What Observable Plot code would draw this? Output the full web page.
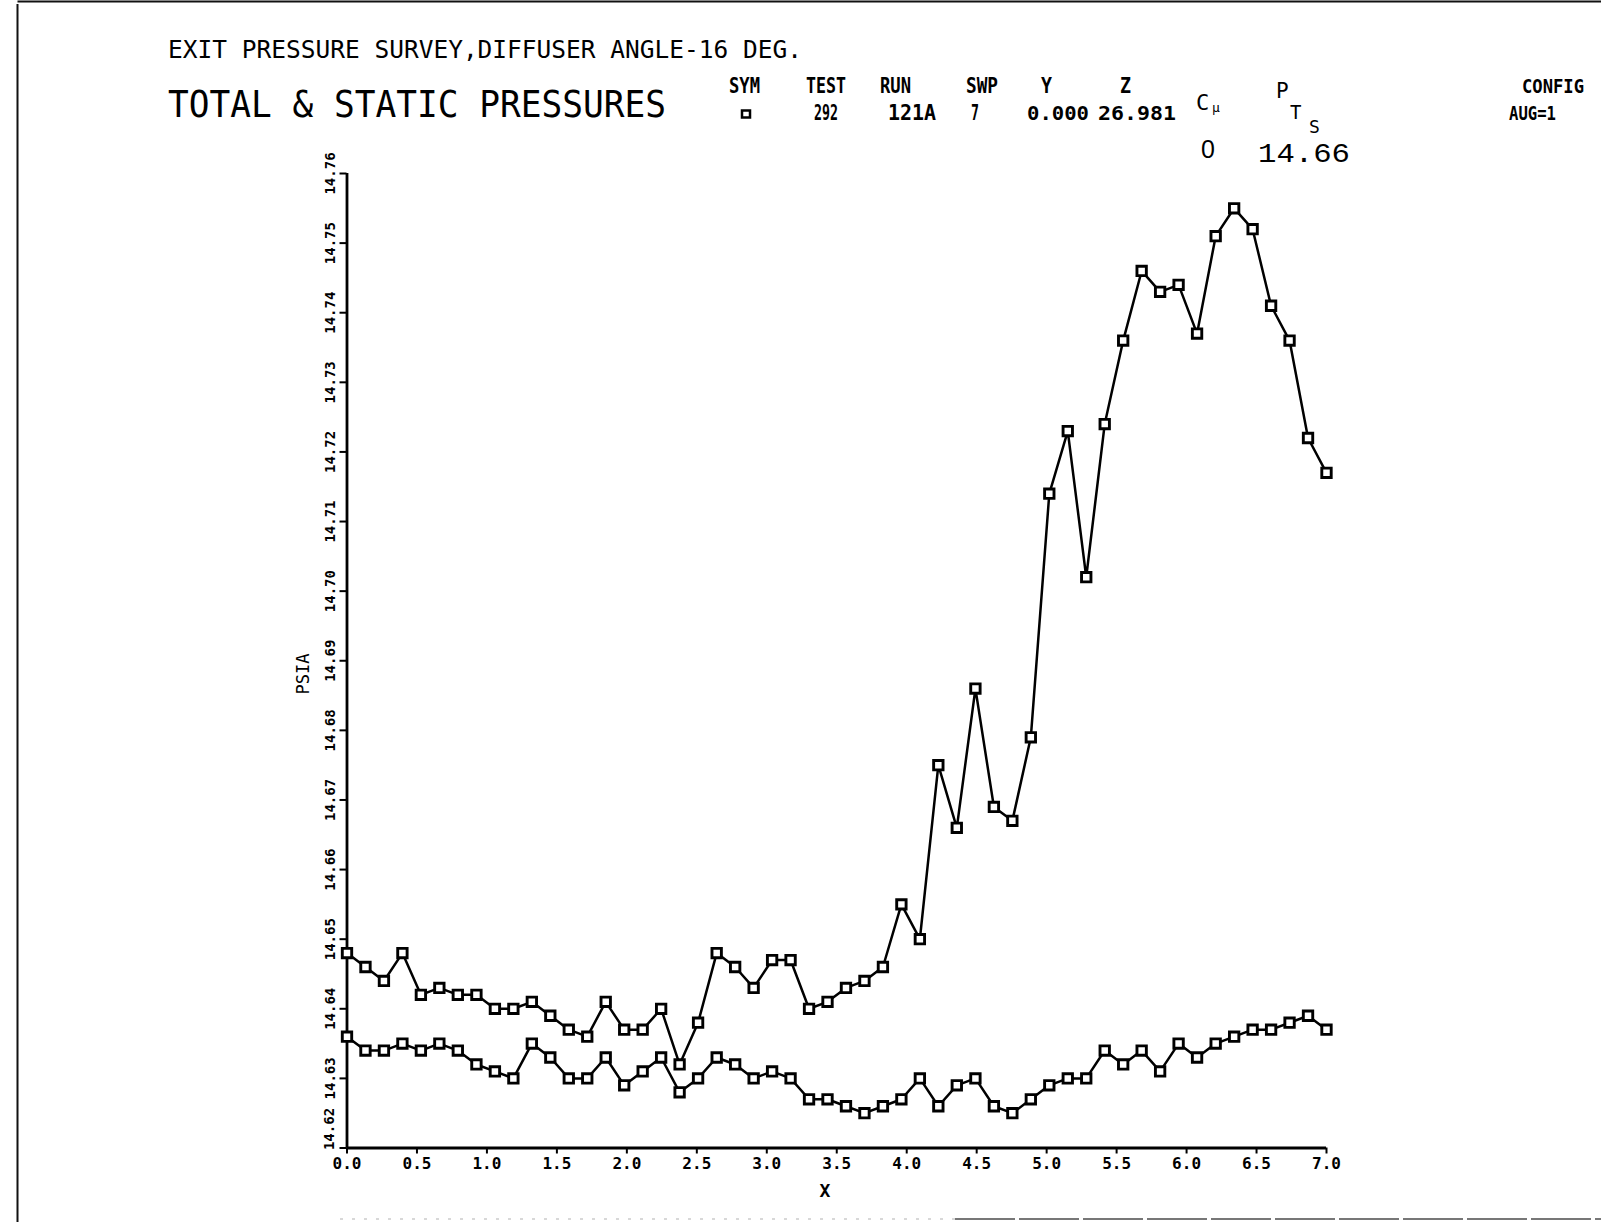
<!DOCTYPE html>
<html><head><meta charset="utf-8">
<script src="https://cdn.jsdelivr.net/npm/d3@7"></script>
<script src="https://cdn.jsdelivr.net/npm/@observablehq/plot@0.6"></script>
<style>
html,body{margin:0;padding:0;background:#fff;}
#page{position:relative;width:1601px;height:1222px;overflow:hidden;background:#fff;}
#page svg{position:absolute;left:0;top:0;}
</style></head><body><div id="page"></div>
<script>
// ---- data ----
const xPos = [0.000,0.132,0.264,0.396,0.528,0.660,0.792,0.925,1.057,1.189,1.321,1.453,1.585,1.717,1.849,1.981,2.113,2.245,2.377,2.509,2.642,2.774,2.906,3.038,3.170,3.302,3.434,3.566,3.698,3.830,3.962,4.094,4.226,4.358,4.491,4.623,4.755,4.887,5.019,5.151,5.283,5.415,5.547,5.679,5.811,5.943,6.075,6.208,6.340,6.472,6.604,6.736,6.868,7.000];
const totalPressure = [14.648,14.646,14.644,14.648,14.642,14.643,14.642,14.642,14.640,14.640,14.641,14.639,14.637,14.636,14.641,14.637,14.637,14.640,14.632,14.638,14.648,14.646,14.643,14.647,14.647,14.640,14.641,14.643,14.644,14.646,14.655,14.650,14.675,14.666,14.686,14.669,14.667,14.679,14.714,14.723,14.702,14.724,14.736,14.746,14.743,14.744,14.737,14.751,14.755,14.752,14.741,14.736,14.722,14.717];
const staticPressure = [14.636,14.634,14.634,14.635,14.634,14.635,14.634,14.632,14.631,14.630,14.635,14.633,14.630,14.630,14.633,14.629,14.631,14.633,14.628,14.630,14.633,14.632,14.630,14.631,14.630,14.627,14.627,14.626,14.625,14.626,14.627,14.630,14.626,14.629,14.630,14.626,14.625,14.627,14.629,14.630,14.630,14.634,14.632,14.634,14.631,14.635,14.633,14.635,14.636,14.637,14.637,14.638,14.639,14.637];
const xTicks = [0.0,0.5,1.0,1.5,2.0,2.5,3.0,3.5,4.0,4.5,5.0,5.5,6.0,6.5,7.0];
const yTicks = [14.62,14.63,14.64,14.65,14.66,14.67,14.68,14.69,14.70,14.71,14.72,14.73,14.74,14.75,14.76];

const totalRows = xPos.map((x, i) => ({x, y: totalPressure[i]}));
const staticRows = xPos.map((x, i) => ({x, y: staticPressure[i]}));

const page = document.getElementById("page");
const MONO = "'DejaVu Sans Mono', 'Liberation Mono', monospace";
const fmtY = d3.format(".2f");
const yBottom = yTicks[0];

const chart = Plot.plot({
  width: 1601,
  height: 1222,
  marginLeft: 346.5,
  marginRight: 275,
  marginTop: 173,
  marginBottom: 74.5,
  style: {fontFamily: MONO, background: "transparent", color: "black", overflow: "visible"},
  x: {domain: [0, 7]},
  y: {domain: [14.62, 14.76]},
  marks: [
    Plot.axisX({ticks: xTicks, tickFormat: d3.format(".1f"), tickSize: 6, tickPadding: 4,
      fontSize: 16, fontWeight: "bold", strokeWidth: 2, label: null}),
    // all tick marks; the bottom label is drawn separately, lifted clear of the x labels
    Plot.axisY({ticks: yTicks, tickFormat: d => d === yBottom ? "" : fmtY(d), tickSize: 7, tickPadding: 5,
      tickRotate: -90, fontSize: 14, fontWeight: "bold", strokeWidth: 2, label: null}),
    Plot.text([yBottom], {x: () => 0, y: d => d, text: d => fmtY(d), rotate: -90, dx: -17, dy: -19,
      fontSize: 14, fontWeight: "bold", textAnchor: "middle", lineAnchor: "middle"}),
    Plot.ruleX([0], {stroke: "black", strokeWidth: 2.8}),
    Plot.ruleY([14.62], {stroke: "black", strokeWidth: 2.8}),
    Plot.line(totalRows, {x: "x", y: "y", stroke: "black", strokeWidth: 2.5}),
    Plot.line(staticRows, {x: "x", y: "y", stroke: "black", strokeWidth: 2.5}),
    Plot.dot(totalRows, {x: "x", y: "y", symbol: "square", r: 5.3, fill: "white", stroke: "black", strokeWidth: 2.9}),
    Plot.dot(staticRows, {x: "x", y: "y", symbol: "square", r: 5.3, fill: "white", stroke: "black", strokeWidth: 2.9})
  ]
});
page.appendChild(chart);

// ---- header / annotations overlay ----
const svg = d3.select(page).append("svg")
  .attr("width", 1601).attr("height", 1222)
  .style("pointer-events", "none");

// page frame
svg.append("line").attr("x1", 17.5).attr("x2", 17.5).attr("y1", 4).attr("y2", 1222).attr("stroke", "#111").attr("stroke-width", 2);
svg.append("line").attr("x1", 17.5).attr("x2", 1601).attr("y1", 1.5).attr("y2", 1.5).attr("stroke", "#111").attr("stroke-width", 2);
svg.append("line").attr("x1", 955).attr("x2", 1601).attr("y1", 1219).attr("y2", 1219).attr("stroke", "#777").attr("stroke-width", 2).attr("stroke-dasharray", "60 4");
svg.append("line").attr("x1", 340).attr("x2", 955).attr("y1", 1219).attr("y2", 1219).attr("stroke", "#ccc").attr("stroke-width", 1.5).attr("stroke-dasharray", "3 9");

function txt(s, x, y, size, opts = {}) {
  const t = svg.append("text").attr("x", x).attr("y", y)
    .attr("font-family", opts.family || MONO)
    .attr("font-size", size)
    .attr("font-weight", opts.weight || "normal")
    .attr("fill", "black")
    .attr("text-anchor", opts.anchor || "start")
    .text(s);
  if (opts.len) t.attr("textLength", opts.len).attr("lengthAdjust", "spacingAndGlyphs");
  if (opts.rotate) t.attr("transform", `rotate(${opts.rotate},${x},${y})`);
  return t;
}

txt("EXIT PRESSURE SURVEY,DIFFUSER ANGLE-16 DEG.", 168, 58, 25, {len: 634});
txt("TOTAL & STATIC PRESSURES", 168, 117, 37, {len: 498});

const hdr = {weight: "bold"};
txt("SYM", 729, 93, 21, {...hdr, len: 31});
txt("TEST", 806, 93, 21, {...hdr, len: 40});
txt("RUN", 880, 93, 21, {...hdr, len: 31});
txt("SWP", 966, 93, 21, {...hdr, len: 32});
txt("Y", 1041, 93, 21, {...hdr, len: 11});
txt("Z", 1120, 93, 21, {...hdr, len: 11});
txt("C", 1196, 110, 22, {});
txt("\u03bc", 1212, 112, 13, {});
txt("P", 1276, 98, 21, {});
txt("T", 1290, 119, 19, {});
txt("S", 1309, 133, 18, {});
txt("CONFIG", 1522, 93, 19, {...hdr, len: 62});

// symbol box for SYM column
svg.append("rect").attr("x", 742).attr("y", 110.5).attr("width", 8).attr("height", 7)
  .attr("fill", "white").attr("stroke", "black").attr("stroke-width", 2.5);
txt("292", 814, 120, 21, {...hdr, len: 24});
txt("121A", 888, 120, 21, {...hdr, len: 48});
txt("7", 971, 120, 21, {...hdr, len: 8});
txt("0.000", 1027, 120, 20, {...hdr, len: 62});
txt("26.981", 1098, 120, 20, {...hdr, len: 78});
txt("AUG=1", 1509, 120, 20, {...hdr, len: 47});

txt("0", 1201, 158, 25, {family: "'Liberation Sans', sans-serif"});
txt("14.66", 1258, 162, 28, {family: "'Liberation Mono', monospace", len: 92});

// axis titles
txt("PSIA", 309, 674, 18, {anchor: "middle", rotate: -90, len: 41});
txt("X", 825, 1197, 18, {anchor: "middle", weight: "bold"});
</script></body></html>
